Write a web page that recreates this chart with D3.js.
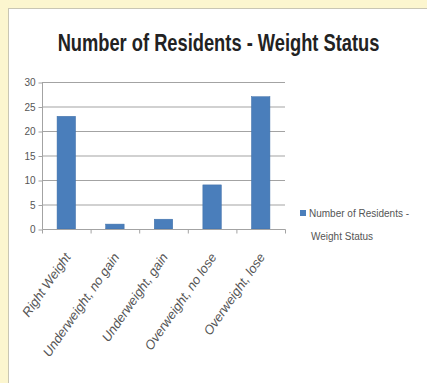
<!DOCTYPE html>
<html><head><meta charset="utf-8">
<script src="https://cdn.jsdelivr.net/npm/d3@7"></script>
<style>html,body{margin:0;padding:0;background:#fdf7d2;}svg{display:block;}</style>
</head><body>
<svg id="c" width="427" height="383"></svg>
<script>
const categories = ["Right Weight", "Underweight, no gain", "Underweight, gain", "Overweight, no lose", "Overweight, lose"];
const values = [23, 1, 2, 9, 27];
const yTicks = [0, 5, 10, 15, 20, 25, 30];
const title = "Number of Residents - Weight Status";
const legendLines = ["Number of Residents -", "Weight Status"];

const FONT = "'Liberation Sans', Arial, sans-serif";
const svg = d3.select("#c");
svg.append("rect").attr("x", 0).attr("y", 0).attr("width", 427).attr("height", 383).attr("fill", "#fcf6cf");
svg.append("rect").attr("x", 8.5).attr("y", 8.5).attr("width", 430).attr("height", 390)
  .attr("fill", "#ffffff").attr("stroke", "#c9c6b4").attr("stroke-width", 1);

const x = d3.scaleBand().domain(categories).range([42, 285]).paddingInner(0.62).paddingOuter(0.31);
const xb = d3.scaleBand().domain(categories).range([42, 285]);
const y = d3.scaleLinear().domain([0, 30]).range([229, 82]);

// gridlines
svg.append("g").selectAll("line").data(yTicks.filter(d => d > 0)).join("line")
  .attr("x1", 42).attr("x2", 285).attr("y1", d => y(d) + 0.5).attr("y2", d => y(d) + 0.5)
  .attr("stroke", "#a3a3a3").attr("stroke-width", 1);

// y axis
const ya = svg.append("g").attr("transform", "translate(42.5,0.5)")
  .call(d3.axisLeft(y).tickValues(yTicks).tickSize(4).tickPadding(3));
ya.select(".domain").attr("stroke", "#a3a3a3").attr("d", `M0,${y(30)}V${y(0)}`);
ya.selectAll(".tick line").attr("stroke", "#a3a3a3");
ya.selectAll("text").attr("fill", "#555").attr("font-family", FONT).attr("font-size", 10);

// bars
svg.append("g").selectAll("rect").data(values).join("rect")
  .attr("x", (d, i) => x(categories[i])).attr("width", x.bandwidth())
  .attr("y", d => y(d)).attr("height", d => y(0) - y(d))
  .attr("fill", "#4a7ebb").attr("stroke", "#3f6fa8").attr("stroke-width", 0.5);

// x axis
const xa = svg.append("g").attr("transform", `translate(0.5,${y(0) + 0.5})`)
  .call(d3.axisBottom(xb).tickSize(0).tickFormat(""));
xa.select(".domain").attr("stroke", "#a3a3a3").attr("d", `M${42},0H${285}`);
svg.append("g").selectAll("line").data(d3.range(categories.length + 1)).join("line")
  .attr("x1", i => 42.5 + i * xb.step()).attr("x2", i => 42.5 + i * xb.step())
  .attr("y1", y(0) + 0.5).attr("y2", y(0) + 4.5).attr("stroke", "#a3a3a3");

// x labels
svg.append("g").selectAll("text").data(categories).join("text")
  .attr("transform", d => `translate(${xb(d) + xb.bandwidth() / 2 + 5},${y(0) + 28}) rotate(-55)`)
  .attr("text-anchor", "end")
  .attr("font-family", FONT)
  .attr("font-size", 13).attr("fill", "#555").attr("font-style", "italic")
  .text(d => d);

// title (narrowed to the reference width)
const t = svg.append("text").attr("text-anchor", "middle")
  .attr("font-family", FONT).attr("font-weight", "bold")
  .attr("font-size", 23).attr("fill", "#222").text(title);
const tw = t.node().getComputedTextLength();
const sx = 322 / tw;
t.attr("transform", `translate(218.5,51) scale(${sx},1)`);

// legend
svg.append("rect").attr("x", 300).attr("y", 210).attr("width", 6).attr("height", 6).attr("fill", "#4a7ebb");
svg.append("g").selectAll("text").data(legendLines).join("text")
  .attr("x", (d, i) => i === 0 ? 309 : 311).attr("y", (d, i) => 217 + i * 23)
  .attr("font-family", FONT)
  .attr("font-size", 10).attr("fill", "#555").text(d => d);
</script>
</body></html>
